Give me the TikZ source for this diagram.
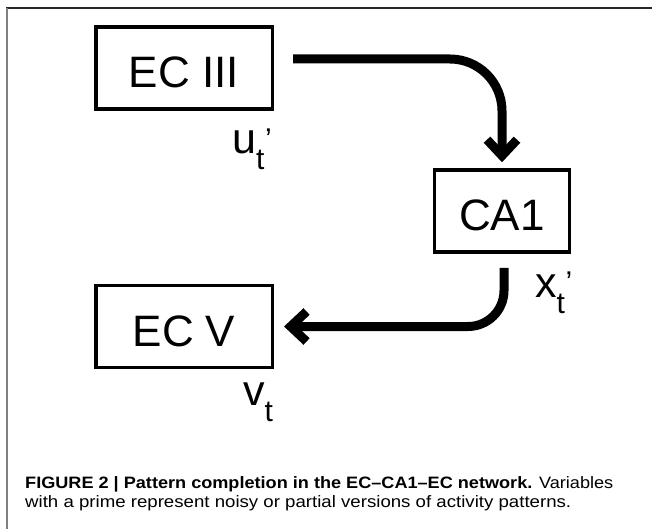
\documentclass[tikz,border=0pt]{standalone}
\usepackage{fontspec}
\setmainfont{Liberation Sans}
\usepackage{graphicx}
\usetikzlibrary{arrows.meta,calc}

\newcommand{\subfont}{\fontsize{30}{30}\selectfont}
\newcommand{\tvar}[2]{#1\rlap{\raisebox{-16pt}{\subfont t}}\raisebox{4.5pt}{\subfont\hspace{9pt}#2}}

\tikzset{
  area/.style={draw, line width=3.5pt, minimum height=82pt, inner sep=0pt,
    text height=39pt, text depth=0pt, font=\fontsize{44}{44}\selectfont},
  var/.style={anchor=base west, inner sep=0pt, font=\fontsize{43}{43}\selectfont},
  flow/.style={line width=9pt, -{Straight Barb[length=16pt,width=30pt]}},
  capline/.style={anchor=base west, inner sep=0pt, font=\fontsize{16.5}{20}\selectfont},
}

\begin{document}
\begin{tikzpicture}[x=1pt,y=-1pt]
  \useasboundingbox (0,0) rectangle (652,529);
  % frame
  \draw[line width=2.5pt, black!85] (6,8) -- (652,8);
  \draw[line width=2pt, black!50] (7,8) -- (7,529);

  % areas
  \node[area, minimum width=176.5pt] (ec3) at (184,68) {EC III};
  \node[area, minimum width=135pt] (ca1) at (502,211) {CA1};
  \node[area, minimum width=176.5pt] (ec5) at (184,326.5) {EC V};

  % variables
  \node[var] (u) at (232,154) {\tvar{u}{’}};
  \node[var] (x) at (535,297) {\tvar{x}{’}};
  \node[var] (v) at (243,405) {\tvar{v}{}};

  % pathway
  \draw[flow, rounded corners=52pt] ($(ec3.east)+(19,-9)$) -| ([yshift=6pt]ca1.north);
  \draw[flow, rounded corners=36pt] ($(ca1.south)+(2,14)$) |- ([xshift=10pt]ec5.east);

  % caption
  \node[capline] (cap1) at (25,488)
    {\resizebox{588pt}{\height}{\textbf{FIGURE 2 | Pattern completion in the EC–CA1–EC network.} Variables}};
  \node[capline] (cap2) at (25,507)
    {\resizebox{546pt}{\height}{with a prime represent noisy or partial versions of activity patterns.}};
\end{tikzpicture}
\end{document}
